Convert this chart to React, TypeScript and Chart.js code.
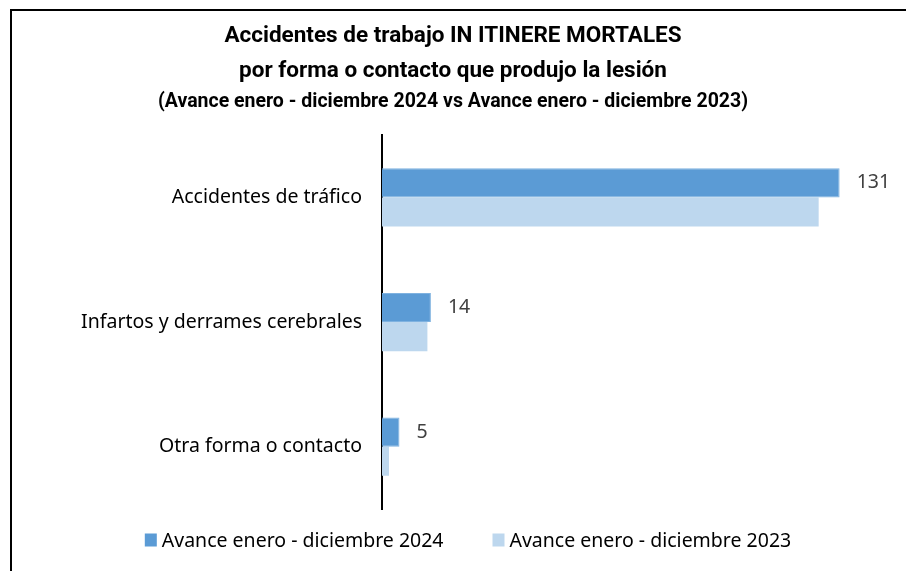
import React, { useEffect, useRef } from "react";
import { Chart, registerables } from "chart.js";

Chart.register(...registerables);

const categories = [
  "Accidentes de tráfico",
  "Infartos y derrames cerebrales",
  "Otra forma o contacto",
];
const series2024Label = "Avance enero - diciembre 2024";
const series2023Label = "Avance enero - diciembre 2023";
const values2024 = [131, 14, 5];
const values2023 = [125, 13, 2];
const titleLines = [
  "Accidentes de trabajo IN ITINERE MORTALES",
  "por forma o contacto que produjo la lesión",
];
const subtitleText =
  "(Avance enero - diciembre 2024 vs Avance enero - diciembre 2023)";

const COLOR_2024 = "#5B9BD5";
const COLOR_2023 = "#BDD7EE";
const FONT = "'Noto Sans', 'Open Sans', sans-serif";
const TITLE_FONT = "'Roboto', sans-serif";
const TEXT_SIZE = 19.5;

const valueLabelPlugin = {
  id: "valueLabels",
  afterDatasetsDraw(chart: any) {
    const ctx = chart.ctx;
    const meta = chart.getDatasetMeta(0);
    const data = chart.data.datasets[0].data;
    ctx.save();
    ctx.font = `${TEXT_SIZE}px ${FONT}`;
    ctx.fillStyle = "#404040";
    ctx.textAlign = "left";
    ctx.textBaseline = "middle";
    meta.data.forEach((bar: any, i: number) => {
      ctx.fillText(String(data[i]), bar.x + 17, bar.y);
    });
    ctx.restore();
  },
};

const customLegendPlugin = {
  id: "customLegend",
  afterDraw(chart: any) {
    const ctx = chart.ctx;
    ctx.save();
    ctx.font = `${TEXT_SIZE}px ${FONT}`;
    ctx.textBaseline = "middle";
    ctx.textAlign = "left";
    const boxW = 12;
    const boxH = 13;
    const gap = 5;
    const spacing = 49;
    const items = chart.data.datasets.map((d: any) => ({
      label: d.label,
      color: d.backgroundColor,
      w: boxW + gap + ctx.measureText(d.label).width,
    }));
    const total =
      items.reduce((s: number, it: any) => s + it.w, 0) +
      spacing * (items.length - 1);
    let x = 468 - total / 2;
    const y = 540;
    items.forEach((it: any) => {
      ctx.fillStyle = it.color;
      ctx.fillRect(x, y - boxH / 2, boxW, boxH);
      ctx.fillStyle = "#000000";
      ctx.fillText(it.label, x + boxW + gap, y + 1);
      x += it.w + spacing;
    });
    ctx.restore();
  },
};

export default function App() {
  const canvasRef = useRef<HTMLCanvasElement | null>(null);

  useEffect(() => {
    if (!canvasRef.current) return;
    const chart = new Chart(canvasRef.current, {
      type: "bar",
      data: {
        labels: categories,
        datasets: [
          {
            label: series2024Label,
            data: values2024,
            backgroundColor: COLOR_2024,
            borderColor: "#7FB2E0",
            borderWidth: { top: 1, right: 1, bottom: 1, left: 0 } as any,
            borderSkipped: false,
            barPercentage: 1,
            categoryPercentage: 0.467,
          },
          {
            label: series2023Label,
            data: values2023,
            backgroundColor: COLOR_2023,
            borderWidth: 0,
            barPercentage: 1,
            categoryPercentage: 0.467,
          },
        ],
      },
      options: {
        indexAxis: "y",
        responsive: false,
        animation: false,
        layout: { padding: { top: 19, bottom: 62, left: 0, right: 0 } },
        scales: {
          x: {
            display: false,
            min: 0,
            max: 150,
          },
          y: {
            grid: { display: false, drawTicks: false },
            border: { display: true, color: "#000000", width: 2 },
            ticks: {
              color: "#000000",
              font: { family: FONT, size: TEXT_SIZE },
              padding: 20,
            },
            afterFit(scale: any) {
              scale.width = 382;
            },
          },
        },
        plugins: {
          legend: { display: false },
          tooltip: { enabled: false },
          title: {
            display: true,
            text: titleLines,
            color: "#000000",
            font: { family: TITLE_FONT, size: 22.5, weight: "bold", lineHeight: 1.55 },
            padding: { top: 0, bottom: 0 },
          },
          subtitle: {
            display: true,
            text: subtitleText,
            color: "#000000",
            font: { family: TITLE_FONT, size: 19.5, weight: "bold", lineHeight: 1.2 },
            padding: { top: 2, bottom: 21 },
          },
        },
      },
      plugins: [valueLabelPlugin, customLegendPlugin],
    });
    return () => chart.destroy();
  }, []);

  return (
    <div
      style={{
        position: "fixed",
        left: 0,
        top: 0,
        width: 906,
        height: 571,
        background: "#ffffff",
        overflow: "hidden",
      }}
    >
      <div
        style={{
          position: "absolute",
          left: 10,
          top: 9,
          width: 920,
          height: 600,
          borderLeft: "2px solid #000000",
          borderTop: "2px solid #000000",
        }}
      />
      <canvas
        ref={canvasRef}
        width={906}
        height={571}
        style={{ position: "absolute", left: 0, top: 0 }}
      />
    </div>
  );
}
